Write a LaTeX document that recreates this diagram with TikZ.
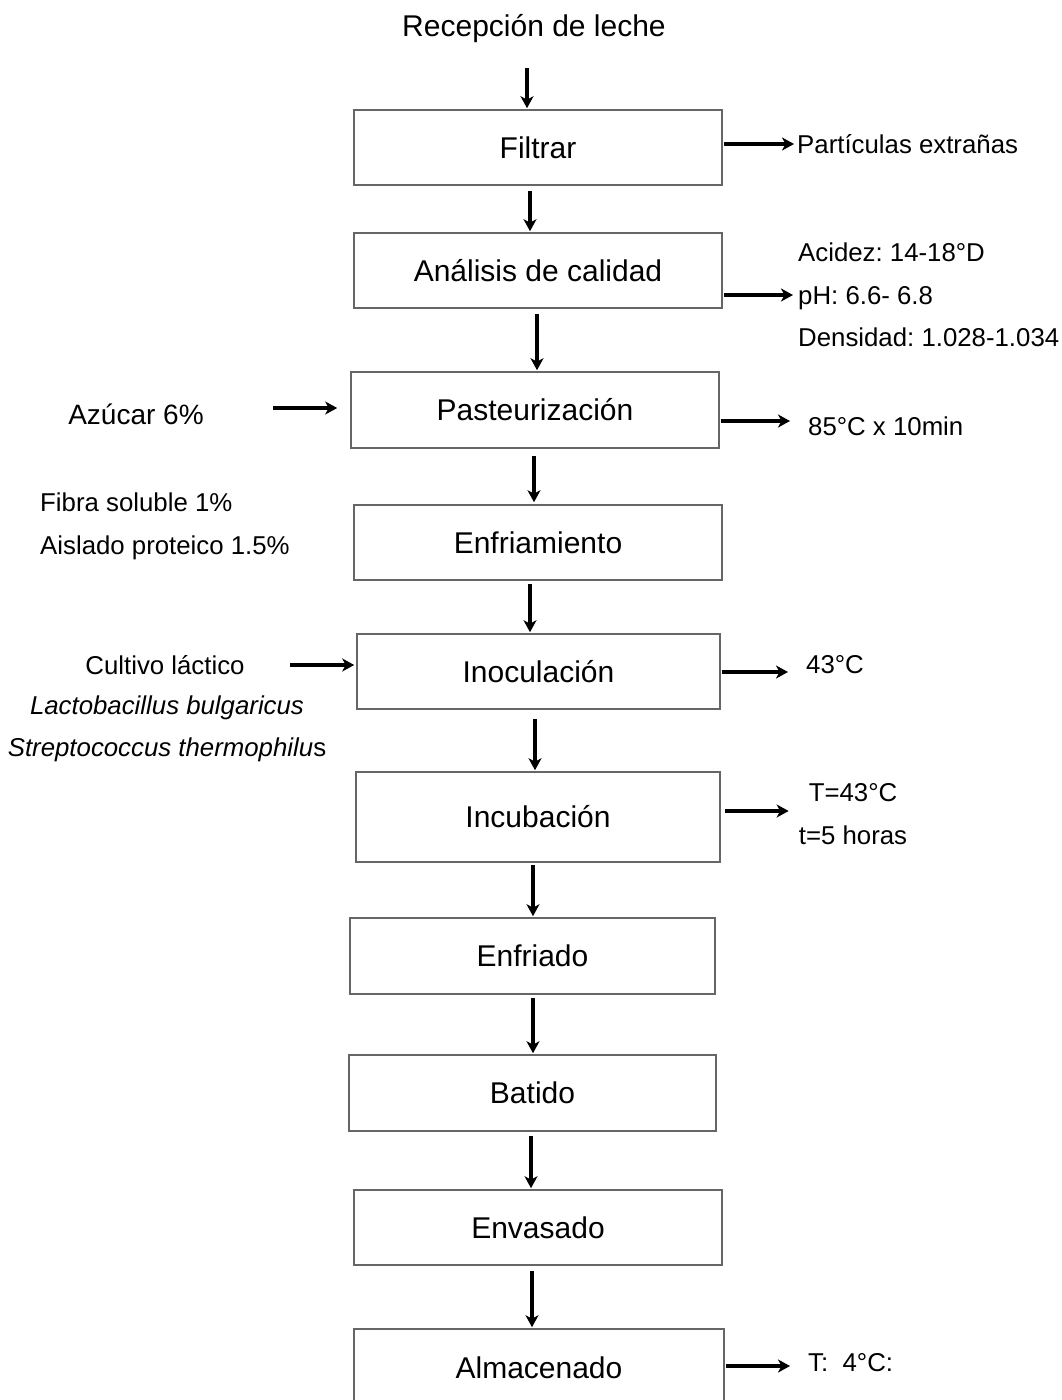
\documentclass[tikz,border=0pt]{standalone}
\usepackage{fontspec}
\setmainfont{Liberation Sans}
\usetikzlibrary{arrows.meta,calc}
\begin{document}
\frenchspacing
\begin{tikzpicture}[x=1pt,y=-1pt,
  procbox/.style={draw=black!60, line width=1.6pt, inner sep=0pt, font=\fontsize{30}{33}\selectfont},
  sidetxt/.style={inner sep=0pt, font=\fontsize{25.8}{42.5}\selectfont},
  arr/.style={draw=black, line width=3.2pt, -{Stealth[length=12pt,width=13pt,inset=3.5pt]}}]
\useasboundingbox (0,0) rectangle (1062,1400);
\clip (0,0) rectangle (1062,1400);
% title
\node[inner sep=0pt, anchor=base, font=\fontsize{30}{33}\selectfont] (rec) at (534,36) {Recepción de leche};
% process boxes
\node[procbox, minimum width=368pt, minimum height=75pt] (filt) at (538,147.5) {Filtrar};
\node[procbox, minimum width=368pt, minimum height=75pt] (ana) at (538,270.5) {Análisis de calidad};
\node[procbox, minimum width=368pt, minimum height=76pt] (past) at (535,410) {Pasteurización};
\node[procbox, minimum width=368pt, minimum height=75pt] (enfr) at (538,542.5) {Enfriamiento};
\node[procbox, minimum width=363pt, minimum height=75pt] (inoc) at (538.5,671.5) {Inoculación};
\node[procbox, minimum width=364pt, minimum height=90pt] (incub) at (538,817) {Incubación};
\node[procbox, minimum width=365pt, minimum height=76pt] (enfd) at (532.5,956) {Enfriado};
\node[procbox, minimum width=367pt, minimum height=76pt] (bat) at (532.5,1093) {Batido};
\node[procbox, minimum width=368pt, minimum height=75pt] (env) at (538,1227.5) {Envasado};
\node[procbox, minimum width=370pt, minimum height=78pt] (alm) at (539,1368) {Almacenado};
% side texts right
\node[sidetxt, anchor=west] (part) at (797,144) {Partículas extrañas};
\node[sidetxt, anchor=west, align=left] (qual) at (798,295) {Acidez: 14-18°D\\pH: 6.6- 6.8\\Densidad: 1.028-1.034};
\node[sidetxt, anchor=west] (pt) at (808,426) {85°C x 10min};
\node[sidetxt, anchor=west] (t43) at (806,665) {43°C};
\node[sidetxt, align=center] (ti) at (853,814) {T=43°C\\t=5 horas};
\node[sidetxt, anchor=west] (t4) at (808,1363) {T:\ \ 4°C:};
% side texts left
\node[inner sep=0pt, font=\fontsize{28}{33}\selectfont] (azu) at (136,414) {Azúcar 6\%};
\node[sidetxt, anchor=west, align=left] (fib) at (40,526.5) {Fibra soluble 1\%\\Aislado proteico 1.5\%};
\node[sidetxt] (cult) at (165,665) {Cultivo láctico};
\node[sidetxt, align=center] (spp) at (167,729) {\itshape Lactobacillus bulgaricus\\\itshape Streptococcus thermophilu\upshape s};
% vertical arrows
\draw[arr] ($(rec.south)+(-7,26)$) -- ($(filt.north)+(-11,-1)$);
\draw[arr] ($(filt.south)+(-8,5)$) -- ($(ana.north)+(-8,-1)$);
\draw[arr] ($(ana.south)+(-1,5)$) -- ($(past.north)+(2,-1)$);
\draw[arr] ($(past.south)+(-1,7)$) -- ($(enfr.north)+(-4,-2)$);
\draw[arr] ($(enfr.south)+(-8,3)$) -- ($(inoc.north)+(-8.5,-1)$);
\draw[arr] ($(inoc.south)+(-3.5,9)$) -- ($(incub.north)+(-3,-1)$);
\draw[arr] ($(incub.south)+(-5,2)$) -- ($(enfd.north)+(0.5,-1)$);
\draw[arr] ($(enfd.south)+(0.5,3)$) -- ($(bat.north)+(0.5,-1)$);
\draw[arr] ($(bat.south)+(-1.5,4)$) -- ($(env.north)+(-7,-1)$);
\draw[arr] ($(env.south)+(-6,5)$) -- ($(alm.north)+(-7,-1)$);
% right arrows
\draw[arr] ($(filt.east)+(1,-3.5)$) -- ($(part.west)+(-3,0)$);
\draw[arr] ($(ana.east)+(1,24.5)$) -- ($(qual.west)+(-5,0)$);
\draw[arr] ($(past.east)+(1,11)$) -- ($(pt.west)+(-18,-5)$);
\draw[arr] ($(inoc.east)+(1,0.5)$) -- ($(t43.west)+(-18,7)$);
\draw[arr] ($(incub.east)+(4,-6)$) -- ($(ti.west)+(-10,-3)$);
\draw[arr] ($(alm.east)+(1,-2)$) -- ($(t4.west)+(-18,3)$);
% left arrows
\draw[arr] ($(azu.east)+(69,-6)$) -- ($(past.west)+(-13,-2)$);
\draw[arr] ($(cult.east)+(45,0)$) -- ($(inoc.west)+(-2,-6.5)$);
\end{tikzpicture}
\end{document}
